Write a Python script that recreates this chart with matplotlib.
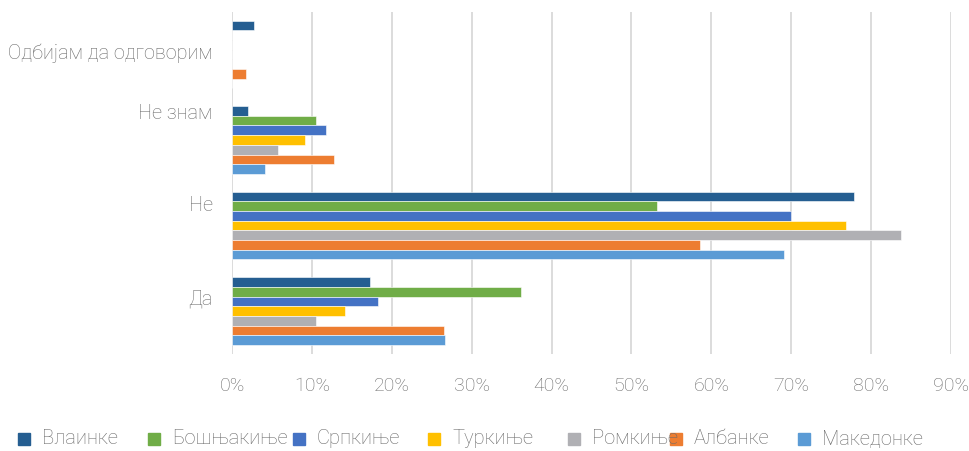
import matplotlib
matplotlib.use("Agg")
import matplotlib.pyplot as plt
from matplotlib.patches import Rectangle
from matplotlib.ticker import FuncFormatter
import numpy as np

# categories bottom -> top
categories = ["Да", "Не", "Не знам", "Одбијам да одговорим"]
series_names = ["Влаинке", "Бошњакиње", "Српкиње", "Туркиње", "Ромкиње", "Албанке", "Македонке"]
colors = ["#255E91", "#70AD47", "#4472C4", "#FFC000", "#B0B0B4", "#ED7D31", "#5B9BD5"]

# values per series, same order as categories (fraction)
vlainke = [0.173, 0.778, 0.020, 0.028]
bosnjakinje = [0.362, 0.532, 0.105, 0.0]
srpkinje = [0.183, 0.700, 0.118, 0.0]
turkinje = [0.141, 0.769, 0.091, 0.0]
romkinje = [0.105, 0.838, 0.057, 0.0]
albanke = [0.266, 0.586, 0.128, 0.018]
makedonke = [0.267, 0.691, 0.041, 0.0]
values = [vlainke, bosnjakinje, srpkinje, turkinje, romkinje, albanke, makedonke]

plt.rcParams["font.family"] = ["Roboto", "DejaVu Sans"]
plt.rcParams["font.weight"] = "light"
text_color = "#6A6A6A"

fig = plt.figure(figsize=(9.69, 4.51), dpi=100)
ax = fig.add_axes([0.2394, 0.2155, 0.742, 0.7585])

n = len(series_names)
h = 0.1133
y = np.arange(len(categories))
for k, (name, vals, c) in enumerate(zip(series_names, values, colors)):
    pos = y + (n / 2 - 0.5 - k) * h
    ax.barh(pos, vals, height=h, color=c, edgecolor="white", linewidth=0.4, zorder=3)

ax.set_xlim(0, 0.9)
ax.set_ylim(-0.5, len(categories) - 0.5)
ax.set_xticks(np.arange(0, 0.91, 0.1))
ax.xaxis.set_major_formatter(FuncFormatter(lambda v, _: f"{v * 100:.0f}%"))
ax.grid(axis="x", color="#D9D9D9", linewidth=1.3, zorder=0)
for s in ["top", "right", "bottom", "left"]:
    ax.spines[s].set_visible(False)
ax.tick_params(axis="x", length=0, pad=17, labelsize=14, labelcolor=text_color)

# category labels sit a little above group centres (as in the source)
label_shift = [0.17, 0.26, 0.33, 0.04]
ax.set_yticks(y + np.array(label_shift))
ax.set_yticklabels(categories)
ax.tick_params(axis="y", length=0, pad=14, labelsize=14.3, labelcolor=text_color)

# legend drawn by hand to keep Excel-like spacing
legend_x = [18, 148, 293, 428, 568, 670, 798]
for xpx, name, c in zip(legend_x, series_names, colors):
    fig.patches.append(Rectangle((xpx / 969, 1 - 445 / 451), 12 / 969, 12 / 451,
                                 transform=fig.transFigure, color=c))
    fig.text((xpx + 24) / 969, 1 - 439 / 451, name, fontsize=14.5, color=text_color,
             va="center", ha="left")

fig.savefig("out.png", dpi=100)
